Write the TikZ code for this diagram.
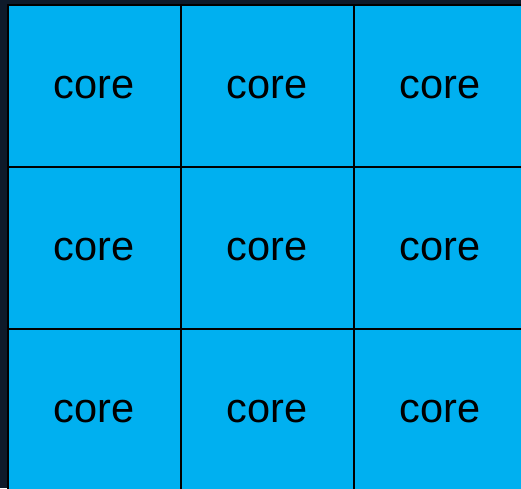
\documentclass[tikz,border=0pt]{standalone}
\usepackage{fontspec}
\setmainfont{Liberation Sans}
\usepackage{tikz}
\definecolor{corecyan}{RGB}{0,176,240}
\definecolor{darkbg}{RGB}{14,26,42}

\begin{document}
\begin{tikzpicture}[x=1pt, y=-1pt,
    corebox/.style={draw=black, line width=2pt, fill=corecyan, anchor=north west,
      minimum width=173pt, minimum height=162pt, inner sep=0pt,
      font=\fontsize{41.5}{48}\selectfont}]
  \useasboundingbox (0,0) rectangle (521,488);
  \clip (0,0) rectangle (521,488);
  \fill[darkbg] (0,0) rectangle (521,488);
  % grid of cores
  \foreach \r in {0,1,2}{
    \foreach \c in {0,1,2}{
      \node[corebox] (core-\r-\c) at (6.5+173*\c, 3.5+162*\r) {\raisebox{-2.5pt}[\height][\depth]{core}};
    }
  }
\end{tikzpicture}
\end{document}
